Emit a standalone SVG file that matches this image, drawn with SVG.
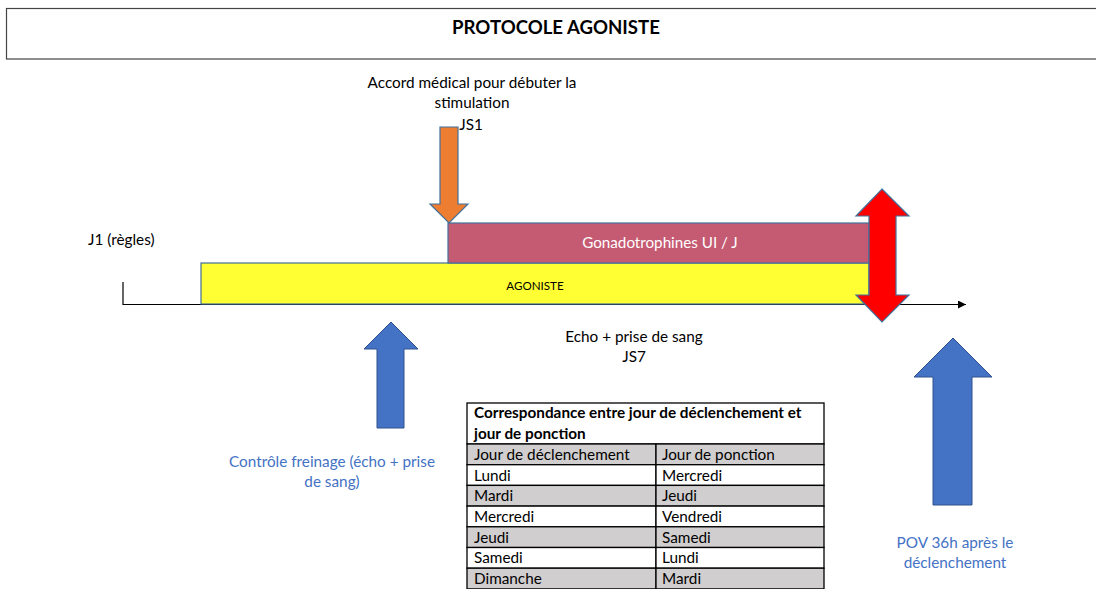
<svg xmlns="http://www.w3.org/2000/svg" width="1096" height="589" viewBox="0 0 1096 589">
<defs>
<style>
text{font-family:Lato,"Liberation Sans",sans-serif;font-size:15.3px;fill:#000}
.c{text-anchor:middle}
.blue{fill:#4472C4}
.arrowB{fill:#4472C4;stroke:#2F528F;stroke-width:1}
.cell{stroke:#000;stroke-width:1.3}
.g{fill:#D0CECE}
.w{fill:#FFFFFF}
</style>
<marker id="ah" viewBox="0 0 10 10" refX="10" refY="5" markerWidth="8" markerHeight="8" markerUnits="userSpaceOnUse" orient="auto"><path d="M0,0 L10,5 L0,10 z" fill="#000"/></marker>
</defs>
<rect width="1096" height="589" fill="#fff"/>

<g id="title">
<rect x="6.5" y="8.5" width="1095" height="50.5" fill="#fff" stroke="#444" stroke-width="1.2"/>
<text x="556" y="33.5" class="c" style="font-weight:bold;font-size:18.6px">PROTOCOLE AGONISTE</text>
</g>

<g id="connectors">
<path d="M123,282 V304.5 H966" fill="none" stroke="#000" stroke-width="1.2" marker-end="url(#ah)"/>
</g>

<g id="agoniste">
<rect x="201" y="263" width="668" height="41" fill="#FFFF33" stroke="#41719C" stroke-width="1.2"/>
<text x="535" y="290" class="c" style="font-size:11.6px">AGONISTE</text>
</g>

<g id="gonadotrophines">
<rect x="448" y="223" width="421" height="40" fill="#C55A73" stroke="#41719C" stroke-width="1.2"/>
<text x="660" y="248" class="c" style="fill:#fff;font-size:15.2px">Gonadotrophines UI / J</text>
</g>

<g id="j1">
<text x="88" y="245">J1 (règles)</text>
</g>

<g id="accord">
<text x="472" y="88" class="c">Accord médical pour débuter la</text>
<text x="472" y="108" class="c">stimulation</text>
<text x="471" y="130" class="c">JS1</text>
<path d="M440,127 H458 V204 H468 L449,223 L430,204 H440 Z" fill="#ED7D31" stroke="#41719C" stroke-width="1.2"/>
</g>

<g id="declenchement">
<path d="M882,189 L909,216 H896 V295 H909 L882,322 L856,295 H869 V216 H856 Z" fill="#FF0000" stroke="#41719C" stroke-width="1.2"/>
</g>

<g id="echo">
<text x="634" y="342" class="c">Echo + prise de sang</text>
<text x="634" y="362" class="c">JS7</text>
</g>

<g id="controle">
<path class="arrowB" d="M391,322 L418,349 H404 V428 H377 V349 H364 Z"/>
<text x="332" y="467" class="c blue">Contrôle freinage (écho + prise</text>
<text x="332" y="487" class="c blue">de sang)</text>
</g>

<g id="pov">
<path class="arrowB" d="M953,338 L992,377 H972 V505 H933 V377 H914 Z"/>
<text x="955" y="548" class="c blue">POV 36h après le</text>
<text x="955" y="568" class="c blue">déclenchement</text>
</g>

<g id="table">
<rect x="467" y="403" width="357" height="41" class="cell w"/>
<rect x="467" y="444" width="189" height="20.7" class="cell g"/><rect x="656" y="444" width="168" height="20.7" class="cell g"/>
<rect x="467" y="464.7" width="189" height="20.7" class="cell w"/><rect x="656" y="464.7" width="168" height="20.7" class="cell w"/>
<rect x="467" y="485.4" width="189" height="20.7" class="cell g"/><rect x="656" y="485.4" width="168" height="20.7" class="cell g"/>
<rect x="467" y="506.1" width="189" height="20.7" class="cell w"/><rect x="656" y="506.1" width="168" height="20.7" class="cell w"/>
<rect x="467" y="526.8" width="189" height="20.7" class="cell g"/><rect x="656" y="526.8" width="168" height="20.7" class="cell g"/>
<rect x="467" y="547.5" width="189" height="20.7" class="cell w"/><rect x="656" y="547.5" width="168" height="20.7" class="cell w"/>
<rect x="467" y="568.2" width="189" height="20.7" class="cell g"/><rect x="656" y="568.2" width="168" height="20.7" class="cell g"/>
<text x="474" y="418" style="font-weight:bold;font-size:15.3px">Correspondance entre jour de déclenchement et</text>
<text x="474" y="439" style="font-weight:bold;font-size:15.3px">jour de ponction</text>
<text x="474" y="460">Jour de déclenchement</text><text x="662" y="460">Jour de ponction</text>
<text x="474" y="480.5">Lundi</text><text x="662" y="480.5">Mercredi</text>
<text x="474" y="501">Mardi</text><text x="662" y="501">Jeudi</text>
<text x="474" y="522">Mercredi</text><text x="662" y="522">Vendredi</text>
<text x="474" y="542.5">Jeudi</text><text x="662" y="542.5">Samedi</text>
<text x="474" y="563">Samedi</text><text x="662" y="563">Lundi</text>
<text x="474" y="584">Dimanche</text><text x="662" y="584">Mardi</text>
</g>
</svg>
